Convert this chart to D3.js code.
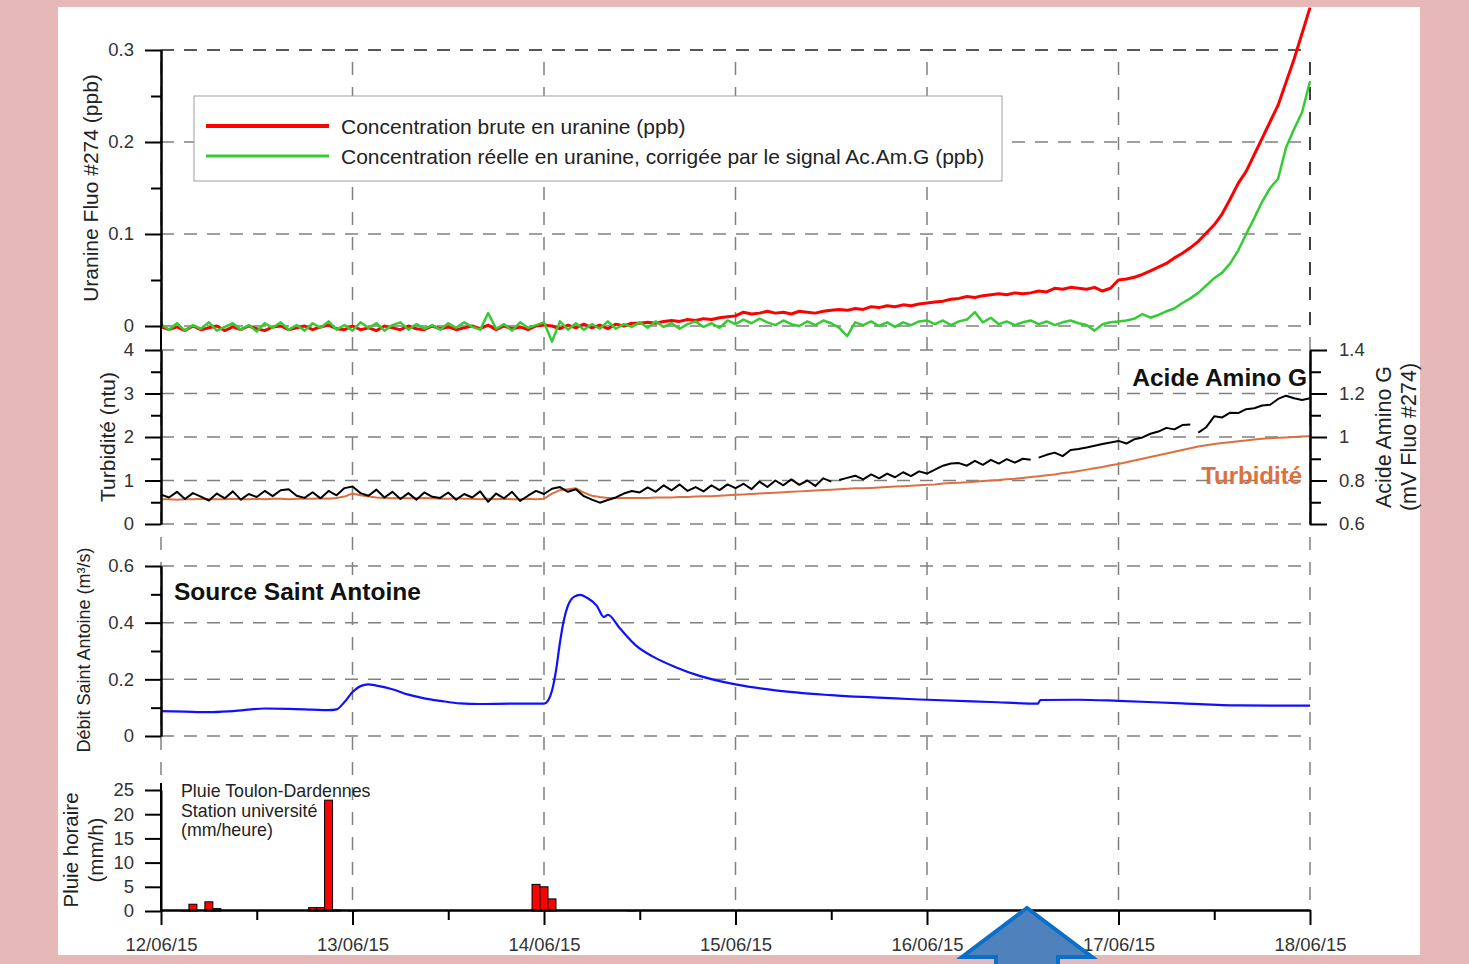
<!DOCTYPE html>
<html><head><meta charset="utf-8">
<script src="https://cdn.jsdelivr.net/npm/d3@7"></script>
<style>
html,body{margin:0;padding:0;background:#e6b8b7;}
svg{display:block;font-family:"Liberation Sans",Arial,sans-serif;}
.tick text{fill:#333;}
</style></head><body>
<svg id="chart" width="1469" height="964"></svg>
<script>
// ---------- DATA (hourly from 12/06/15 00:00 to 18/06/15 00:00) ----------
const dayLabels = ["12/06/15","13/06/15","14/06/15","15/06/15","16/06/15","17/06/15","18/06/15"];
// Concentration brute en uranine, 1e-3 ppb
const uranineBrute = [
 -1,-4,-1,-5,0,-4,-2,0,-5,-1,-4,0,
 -3,-5,-1,0,-4,-2,0,-4,-1,1,-3,-4,
 0,-4,-2,-5,0,-2,-4,0,-3,-4,0,-3,
 -1,-4,-2,0,-3,1,-4,0,-3,-1,-4,0,
 1,0,-3,1,-2,2,-2,1,-3,2,0,3,
 3,4,3,5,6,5,7,6,8,7,9,10,
 11,15,13,14,16,14,15,13,16,15,14,16,
 17,18,17,19,18,21,20,22,21,23,22,24,
 25,26,27,29,30,32,31,33,34,35,34,36,
 35,36,38,37,41,40,42,41,40,42,38,41,
 50,51,53,56,60,64,68,74,79,85,92,101,
 110,122,138,155,168,186,204,222,240,265,290,318,
 346];
// Concentration réelle corrigée, 1e-3 ppb
const uranineReelle = [
 2,-4,3,-5,1,-3,4,-5,-1,3,-4,1,
 -6,3,-2,4,-4,1,-5,3,-2,5,-4,1,
 -5,4,-2,3,-5,1,4,-4,2,-3,1,-4,
 3,-2,4,-1,-4,14,-3,2,-5,4,-2,1,
 4,-17,5,-4,3,-4,2,-3,5,-3,2,-1,
 4,-2,5,-1,3,-3,2,5,-1,3,-2,6,
 2,7,3,8,4,1,6,2,0,5,1,6,
 3,-2,-11,4,1,5,0,4,-1,4,1,5,
 6,2,6,1,5,7,15,4,9,2,5,1,
 4,6,2,5,1,4,6,3,1,-5,2,4,
 5,6,8,13,9,12,16,19,25,30,36,44,
 52,58,68,82,100,117,135,150,160,194,214,232,
 266];
// Acide Amino G, 1e-3 mV (right axis)
const acideAmino = [
 735,722,748,715,742,726,708,740,718,750,712,738,
 724,752,728,755,760,730,720,746,718,752,732,765,
 772,742,730,758,722,748,715,742,712,745,725,720,
 745,712,738,722,750,702,740,718,748,706,730,752,
 738,762,770,748,760,728,712,698,710,722,740,752,
 745,768,748,778,755,782,752,770,750,778,756,782,
 765,785,760,795,770,800,778,805,780,800,775,810,
 795,802,812,822,805,828,810,832,815,838,820,842,
 832,850,868,878,880,868,890,872,895,878,898,882,
 900,895,905,918,928,912,940,945,952,960,968,975,
 982,970,990,998,1015,1025,1042,1035,1055,1058,1020,1045,
 1095,1090,1112,1110,1128,1132,1145,1148,1175,1190,1178,1170,
 1178];
// hours at which the Acide Amino G record restarts after a data gap
const acideBreaks = [85, 110, 130];
// Turbidité (ntu)
const turbidite = [
 0.57,0.57,0.56,0.57,0.57,0.58,0.57,0.57,0.57,0.58,0.57,0.57,
 0.58,0.57,0.58,0.58,0.57,0.58,0.58,0.58,0.59,0.58,0.60,0.63,
 0.70,0.66,0.63,0.61,0.60,0.59,0.60,0.59,0.59,0.60,0.59,0.58,
 0.58,0.59,0.58,0.58,0.57,0.58,0.57,0.58,0.57,0.57,0.58,0.57,
 0.58,0.70,0.78,0.80,0.82,0.72,0.65,0.62,0.60,0.60,0.60,0.60,
 0.60,0.60,0.61,0.61,0.61,0.62,0.62,0.63,0.64,0.64,0.65,0.66,
 0.67,0.68,0.69,0.70,0.71,0.72,0.73,0.74,0.75,0.76,0.77,0.78,
 0.79,0.80,0.81,0.82,0.82,0.83,0.84,0.85,0.86,0.87,0.88,0.89,
 0.90,0.91,0.93,0.94,0.95,0.96,0.97,0.99,1.00,1.01,1.03,1.04,
 1.06,1.08,1.10,1.12,1.14,1.17,1.19,1.22,1.25,1.28,1.31,1.35,
 1.38,1.42,1.46,1.50,1.54,1.58,1.62,1.66,1.70,1.74,1.78,1.81,
 1.84,1.86,1.88,1.90,1.92,1.94,1.96,1.97,1.98,1.99,2.00,2.01,
 2.02];
// Débit Saint Antoine (m3/s): [hour, value]
const debitHours = [0,3,6,9,13,16,19,21,22,23,24,25,26,27,29,31,33,35,37.5,40,44,48,48.5,49,49.5,50,50.5,51,51.8,52.5,53.5,54.6,55.5,56,57.5,59.5,61.6,64.5,67.3,72,77,84,96,104,109.9,110.2,115,120,128,135,144];
const debitValues = [0.088,0.086,0.084,0.088,0.097,0.096,0.093,0.091,0.094,0.12,0.155,0.176,0.182,0.178,0.165,0.146,0.133,0.124,0.115,0.113,0.114,0.114,0.125,0.16,0.23,0.33,0.41,0.46,0.492,0.498,0.486,0.46,0.42,0.428,0.38,0.32,0.281,0.243,0.214,0.182,0.161,0.144,0.128,0.12,0.114,0.127,0.128,0.124,0.115,0.108,0.107];
// Pluie horaire (mm/h)
const pluieHours = [3,4,6,7,19,20,21,22,24,47,48,49,59];
const pluieValues = [0.1,1.4,1.9,0.5,0.7,0.7,22.9,0.2,0.1,5.5,5.0,2.5,0.1];

// ---------- SETUP ----------
const svg = d3.select("#chart");
const H = 3600e3;
const t0 = Date.UTC(2015,5,12);
const tAt = h => new Date(t0 + h*H);
const x = d3.scaleUtc().domain([tAt(0), tAt(144)]).range([161,1310]);
const days = d3.range(7).map(i => tAt(i*24));
const halfDays = d3.range(6).map(i => tAt(i*24+12));

const y1 = d3.scaleLinear().domain([0,0.3]).range([326,50]);
const y2L = d3.scaleLinear().domain([0,4]).range([524,350]);
const y2R = d3.scaleLinear().domain([0.6,1.4]).range([524,350]);
const y3 = d3.scaleLinear().domain([0,0.6]).range([736,566]);
const y4 = d3.scaleLinear().domain([0,25]).range([911,790]);

const fmt = d => String(+d.toFixed(2));
const FS = "18.5px";

// white page
svg.append("rect").attr("x",58).attr("y",7).attr("width",1362).attr("height",948).attr("fill","#fff");

// ---------- GRID ----------
const grid = svg.append("g").attr("fill","none");
function hgrid(scale, vals, color){
  vals.forEach(v => grid.append("line").attr("x1",161).attr("x2",1310)
    .attr("y1",scale(v)).attr("y2",scale(v))
    .attr("stroke",color||"#808080").attr("stroke-width",1.5).attr("stroke-dasharray","13,10"));
}
hgrid(y1,[0,0.1,0.2]); hgrid(y1,[0.3],"#222");
hgrid(y2L,[0,1,2,3,4]);
hgrid(y3,[0,0.2,0.4,0.6]);
days.forEach(d => grid.append("line").attr("x1",x(d)).attr("x2",x(d)).attr("y1",62).attr("y2",910)
  .attr("stroke","#808080").attr("stroke-width",1.5).attr("stroke-dasharray","13,12"));
grid.append("line").attr("x1",1310).attr("x2",1310).attr("y1",62).attr("y2",326)
  .attr("stroke","#222").attr("stroke-width",1.5).attr("stroke-dasharray","13,12");

// ---------- LINES ----------
const idx = d3.range(uranineBrute.length);
function segmentsOf(breaks){
  const segs = []; let cur = [0];
  for (let i = 1; i < idx.length; i++){
    if (breaks.includes(i)) { segs.push(cur); cur = [i]; } else cur.push(i);
  }
  segs.push(cur); return segs;
}
function drawLine(vals, yScale, color, w, breaks){
  const line = d3.line().x(i => x(tAt(i))).y(i => yScale(vals[i]));
  svg.append("g").selectAll("path").data(segmentsOf(breaks||[])).join("path")
    .attr("d",line).attr("fill","none")
    .attr("stroke",color).attr("stroke-width",w).attr("stroke-linejoin","round");
}
const brute = uranineBrute.map(v => v/1000);
const reelle = uranineReelle.map(v => v/1000);
const acide = acideAmino.map(v => v/1000);
drawLine(turbidite, y2L, "#dd7040", 2);
drawLine(acide, y2R, "#000", 2, acideBreaks);
drawLine(brute, y1, "#ff0000", 3);
drawLine(reelle, y1, "#33cc33", 2.5);

svg.append("path").datum(debitHours.map((h,i)=>[h,debitValues[i]]))
  .attr("d", d3.line().x(d=>x(tAt(d[0]))).y(d=>y3(d[1])).curve(d3.curveMonotoneX))
  .attr("fill","none").attr("stroke","#1010ff").attr("stroke-width",2.2);

// rain bars
const bw = x(tAt(1)) - x(tAt(0));
svg.append("g").selectAll("rect").data(pluieHours).join("rect")
  .attr("x",(h)=>x(tAt(h))-bw/2).attr("width",bw)
  .attr("y",(h,i)=>y4(pluieValues[i])).attr("height",(h,i)=>y4(0)-y4(pluieValues[i]))
  .attr("fill","#ff0000").attr("stroke","#000").attr("stroke-width",1);

// ---------- AXES ----------
function styleAxis(g){
  g.selectAll(".domain").attr("stroke","#000").attr("stroke-width",2);
  g.selectAll(".tick line").attr("stroke","#000").attr("stroke-width",2);
  g.selectAll(".tick text").attr("font-size",FS).attr("font-family","'Liberation Sans',Arial,sans-serif");
}
function leftAxis(scale, majors, minors){
  const g = svg.append("g").attr("transform","translate(161,0)");
  g.call(d3.axisLeft(scale).tickValues(majors).tickFormat(fmt).tickSize(16).tickSizeOuter(0).tickPadding(11));
  styleAxis(g);
  if (minors){
    const m = svg.append("g").attr("transform","translate(161,0)");
    m.call(d3.axisLeft(scale).tickValues(minors).tickFormat("").tickSize(10).tickSizeOuter(0));
    styleAxis(m);
  }
  return g;
}
leftAxis(y1,[0,0.1,0.2,0.3],[0.05,0.15,0.25]);
svg.append("line").attr("x1",161).attr("x2",161).attr("y1",326).attr("y2",350).attr("stroke","#000").attr("stroke-width",2);
leftAxis(y2L,[0,1,2,3,4],[0.5,1.5,2.5,3.5]);
leftAxis(y3,[0,0.2,0.4,0.6],[0.1,0.3,0.5]);
leftAxis(y4,[0,5,10,15,20,25]);
svg.append("line").attr("x1",161).attr("x2",161).attr("y1",783).attr("y2",911).attr("stroke","#000").attr("stroke-width",2);

// right axis (Acide Amino G)
const gr = svg.append("g").attr("transform","translate(1310,0)");
gr.call(d3.axisRight(y2R).tickValues([0.6,0.8,1.0,1.2,1.4]).tickFormat(fmt).tickSize(17).tickSizeOuter(0).tickPadding(12));
styleAxis(gr);
const grm = svg.append("g").attr("transform","translate(1310,0)");
grm.call(d3.axisRight(y2R).tickValues([0.7,0.9,1.1,1.3]).tickFormat("").tickSize(11).tickSizeOuter(0));
styleAxis(grm);

// bottom time axis
const gb = svg.append("g").attr("transform","translate(0,910)");
gb.call(d3.axisBottom(x).tickValues(days).tickFormat((d,i)=>dayLabels[i]).tickSize(15).tickSizeOuter(0).tickPadding(13));
styleAxis(gb);
const gbm = svg.append("g").attr("transform","translate(0,910)");
gbm.call(d3.axisBottom(x).tickValues(halfDays).tickFormat("").tickSize(10).tickSizeOuter(0));
styleAxis(gbm);

// ---------- AXIS TITLES ----------
function vtext(cx, cy, txt, size){
  svg.append("text").attr("transform",`translate(${cx},${cy}) rotate(-90)`)
    .attr("text-anchor","middle").attr("dominant-baseline","central")
    .attr("font-size",size).attr("fill","#222").text(txt);
}
vtext(90,188,"Uranine Fluo #274 (ppb)","21px");
vtext(107,437,"Turbidité (ntu)","21px");
vtext(84,650,"Débit Saint Antoine (m³/s)","18px");
vtext(70,850,"Pluie horaire","20.5px");
vtext(95,850,"(mm/h)","20.5px");
vtext(1384,437,"Acide Amino G","21.5px");
vtext(1409,437,"(mV Fluo #274)","21.5px");

// ---------- LEGEND ----------
const lg = svg.append("g");
lg.append("rect").attr("x",194).attr("y",96).attr("width",808).attr("height",85)
  .attr("fill","#fff").attr("stroke","#a0a0a0").attr("stroke-width",1);
lg.append("line").attr("x1",206).attr("x2",329).attr("y1",126).attr("y2",126).attr("stroke","#ff0000").attr("stroke-width",4);
lg.append("line").attr("x1",206).attr("x2",329).attr("y1",156).attr("y2",156).attr("stroke","#33cc33").attr("stroke-width",3);
lg.append("text").attr("x",341).attr("y",134).attr("font-size","21px").attr("fill","#222").text("Concentration brute en uranine (ppb)");
lg.append("text").attr("x",341).attr("y",164).attr("font-size","21px").attr("fill","#222").text("Concentration réelle en uranine, corrigée par le signal Ac.Am.G (ppb)");

// ---------- ANNOTATIONS ----------
svg.append("text").attr("x",1307).attr("y",386).attr("text-anchor","end").attr("font-weight","bold")
  .attr("font-size","24.5px").attr("fill","#111").text("Acide Amino G");
svg.append("text").attr("x",1302).attr("y",484).attr("text-anchor","end").attr("font-weight","bold")
  .attr("font-size","24px").attr("fill","#dd7040").text("Turbidité");
svg.append("text").attr("x",174).attr("y",600).attr("font-weight","bold")
  .attr("font-size","24.5px").attr("fill","#111").text("Source Saint Antoine");
["Pluie Toulon-Dardennes","Station université","(mm/heure)"].forEach((t,i)=>
  svg.append("text").attr("x",181).attr("y",797+i*19.5).attr("font-size","17.8px").attr("fill","#222").text(t));

// blue arrow
svg.append("path").attr("d","M1027,908 L1092,957 L1058,957 L1058,975 L996,975 L996,957 L962,957 Z")
  .attr("fill","#4f81bd").attr("stroke","#0a6fc8").attr("stroke-width",4).attr("stroke-linejoin","miter");
</script>
</body></html>
